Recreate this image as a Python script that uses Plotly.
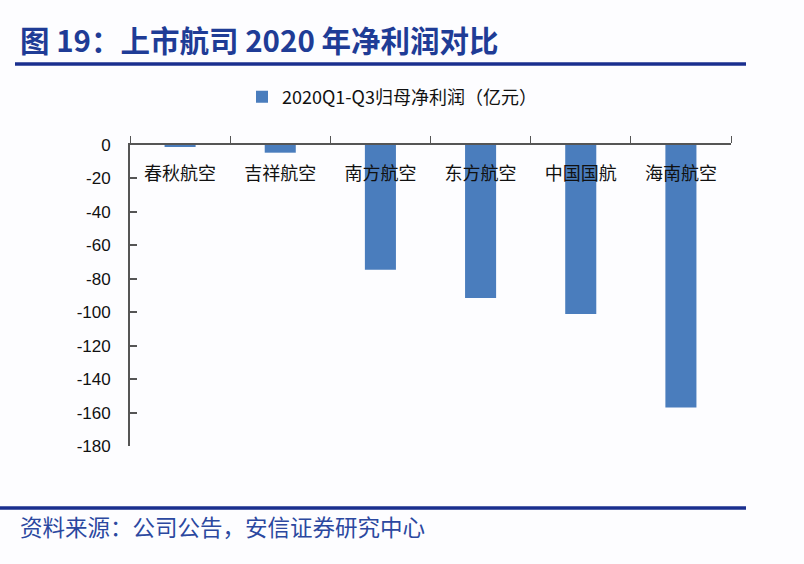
import plotly.graph_objects as go

categories = ["春秋航空", "吉祥航空", "南方航空", "东方航空", "中国国航", "海南航空"]
net_profit = [-1.0, -4.6, -74.6, -91.5, -101.0, -157.0]
series_name = "2020Q1-Q3归母净利润（亿元）"
y_ticks = [0, -20, -40, -60, -80, -100, -120, -140, -160, -180]

W, H = 804, 564
L, R, T, B = 130, 73, 145, 118
pw, ph = W - L - R, H - T - B

def px(x):
    return (x - L) / pw

def py(y):
    return (H - B - y) / ph

fig = go.Figure()
fig.add_trace(go.Bar(
    x=categories, y=net_profit, name=series_name,
    marker=dict(color="#4a7dbd", line=dict(width=0)),
    width=0.31, showlegend=True,
))
# carrier for category labels drawn below the top axis line
fig.add_trace(go.Scatter(x=[None], y=[None], xaxis="x2", yaxis="y",
                         showlegend=False, hoverinfo="skip"))

fig.update_layout(
    width=W, height=H,
    margin=dict(l=L, r=R, t=T, b=B),
    paper_bgcolor="#fdfdff", plot_bgcolor="#fdfdff",
    font=dict(family="Noto Sans CJK SC", color="#111111"),
    showlegend=True,
    legend=dict(orientation="h", x=px(392), y=py(97), xanchor="center", yanchor="middle",
                font=dict(size=18, family="Noto Sans CJK SC", color="#111111"),
                itemwidth=30, bgcolor="rgba(0,0,0,0)"),
    xaxis=dict(side="top", showline=True, linecolor="#555555", linewidth=1.5,
               ticks="outside", ticklen=7, tickcolor="#555555", tickson="boundaries",
               showticklabels=False,
               showgrid=False, zeroline=False, fixedrange=True),
    xaxis2=dict(overlaying="x", anchor="free", position=1.0, side="bottom",
                range=[-0.5, len(categories) - 0.5],
                tickmode="array", tickvals=list(range(len(categories))), ticktext=categories,
                ticks="", showline=False, showgrid=False, zeroline=False,
                ticklabelstandoff=16,
                tickfont=dict(size=18, family="Noto Sans CJK SC", color="#111111")),
    yaxis=dict(range=[-180, 0], tickvals=y_ticks,
               ticktext=[str(v) + "\u00a0\u00a0\u00a0" for v in y_ticks],
               showline=True, linecolor="#555555", linewidth=1.5,
               ticks="inside", ticklen=7, tickwidth=1.5, tickcolor="#555555",
               tickfont=dict(size=17, family="Liberation Sans", color="#111111"),
               showgrid=False, zeroline=False),
)

fig.add_annotation(text="<b>图 19：上市航司 2020 年净利润对比</b>", xref="paper", yref="paper",
                   x=px(18), y=py(39), xanchor="left", yanchor="middle", showarrow=False,
                   font=dict(size=29.5, color="#1f3c96", family="Noto Sans CJK SC"))
fig.add_shape(type="line", xref="paper", yref="paper", x0=px(15), x1=px(746), y0=py(64), y1=py(64),
              line=dict(color="#1a2f8f", width=3.5))
fig.add_shape(type="line", xref="paper", yref="paper", x0=px(0), x1=px(746), y0=py(508), y1=py(508),
              line=dict(color="#1a2f8f", width=3.5))
fig.add_annotation(text="资料来源：公司公告，安信证券研究中心", xref="paper", yref="paper",
                   x=px(18), y=py(526), xanchor="left", yanchor="middle", showarrow=False,
                   font=dict(size=22.5, color="#2b48a0", family="Noto Sans CJK SC"))

fig.write_html("out.html")
